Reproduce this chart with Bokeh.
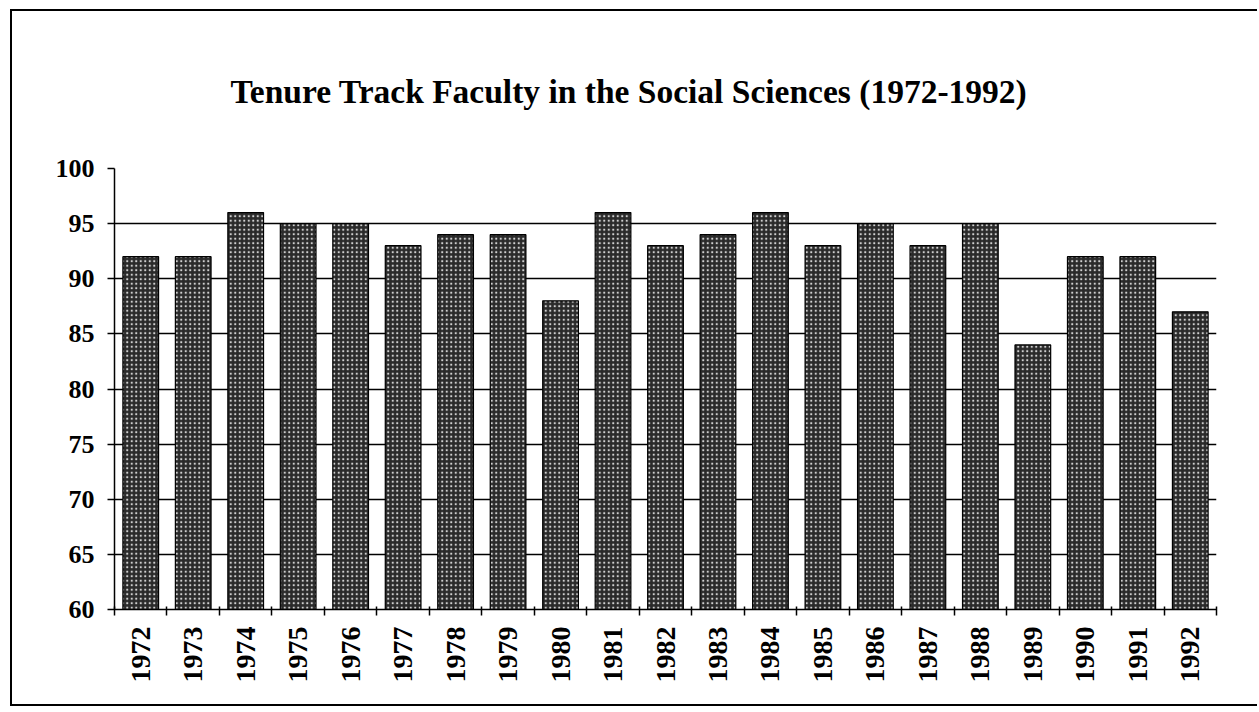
from bokeh.plotting import figure
from bokeh.models import ColumnDataSource, Range1d, FixedTicker, LinearAxis
from bokeh.embed import file_html
from bokeh.resources import INLINE
import math

years = ["1972", "1973", "1974", "1975", "1976", "1977", "1978", "1979", "1980", "1981",
         "1982", "1983", "1984", "1985", "1986", "1987", "1988", "1989", "1990", "1991", "1992"]
values = [92, 92, 96, 95, 95, 93, 94, 94, 88, 96, 93, 94, 96, 93, 95, 93, 95, 84, 92, 92, 87]
y_ticks = [60, 65, 70, 75, 80, 85, 90, 95, 100]
title_text = "Tenure Track Faculty in the Social Sciences (1972-1992)"

centers = [i + 0.5 for i in range(len(years))]
bounds = list(range(len(years) + 1))

FONT = "Liberation Serif"

p = figure(width=1247, height=697, output_backend="svg", toolbar_location=None,
           x_range=Range1d(0, len(years)), y_range=Range1d(60, 100),
           x_axis_location=None, y_axis_location=None,
           min_border_left=102, min_border_right=43, min_border_top=157, min_border_bottom=99)

p.styles = {"margin-left": "10px", "margin-top": "9px",
            "border-left": "2px solid black", "border-top": "2px solid black",
            "border-bottom": "2px solid black"}

p.title.text = title_text
p.title.text_font = FONT
p.title.text_font_style = "bold"
p.title.text_font_size = "33.5px"
p.title.text_color = "black"
p.title.align = "left"
p.title.offset = 116
p.title.standoff = 117
p.outline_line_color = None
p.background_fill_color = "white"
p.border_fill_color = "white"

src = ColumnDataSource(dict(x=centers, top=values))
p.vbar(x="x", top="top", bottom=60, width=0.68, source=src,
       fill_color="#2a2a2a", line_color="black", line_width=1.2,
       hatch_pattern="dot", hatch_color="#d0d0d0", hatch_scale=4.5, hatch_weight=1.4)

# y axis
yax = LinearAxis(ticker=FixedTicker(ticks=y_ticks))
yax.axis_line_color = "black"
yax.axis_line_width = 1.5
yax.major_tick_out = 7
yax.major_tick_in = 0
yax.major_tick_line_width = 1.5
yax.minor_tick_line_color = None
yax.major_label_text_font = FONT
yax.major_label_text_font_style = "bold"
yax.major_label_text_font_size = "26px"
yax.major_label_text_color = "black"
yax.major_label_standoff = 13
p.add_layout(yax, "left")

# x axis: year labels at centers, ticks at category boundaries (minor ticks)
xax = LinearAxis(ticker=FixedTicker(ticks=centers, minor_ticks=bounds),
                 major_label_overrides={c: y for c, y in zip(centers, years)})
xax.axis_line_color = "black"
xax.axis_line_width = 1.5
xax.major_tick_line_color = None
xax.major_tick_out = 0
xax.major_tick_in = 0
xax.minor_tick_line_color = "black"
xax.minor_tick_line_width = 1.5
xax.minor_tick_out = 6
xax.minor_tick_in = 3
xax.major_label_orientation = math.pi / 2
xax.major_label_text_font = FONT
xax.major_label_text_font_style = "bold"
xax.major_label_text_font_size = "28px"
xax.major_label_text_color = "black"
xax.major_label_standoff = 11
p.add_layout(xax, "below")

p.ygrid.ticker = FixedTicker(ticks=y_ticks[1:])
p.ygrid.grid_line_color = "black"
p.ygrid.grid_line_width = 1.5
p.xgrid.grid_line_color = None

open("out.html", "w").write(file_html(p, INLINE))
